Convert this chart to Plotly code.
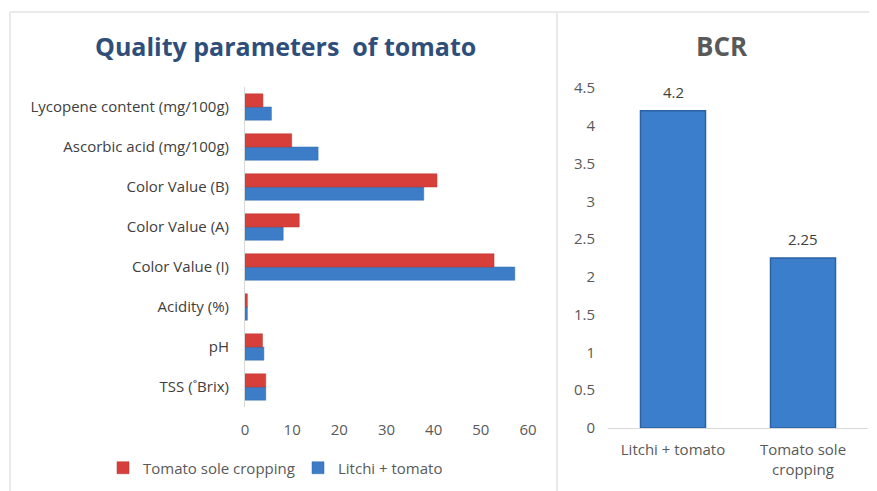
import plotly.graph_objects as go

# page body has an 8px margin, so the figure starts at (8, 8) of the window
OFF = 8
W, H = 877 - OFF, 491 - OFF

# Quality parameters of tomato (horizontal grouped bars)
params = [
    "TSS (˚Brix)",
    "pH",
    "Acidity (%)",
    "Color Value (I)",
    "Color Value (A)",
    "Color Value (B)",
    "Ascorbic acid (mg/100g)",
    "Lycopene content (mg/100g)",
]
sole = [4.4, 3.7, 0.5, 52.8, 11.5, 40.7, 9.9, 3.8]
litchi = [4.4, 4.0, 0.5, 57.2, 8.1, 37.9, 15.5, 5.6]

# BCR
bcr_systems = ["Litchi + tomato", "Tomato sole<br>cropping"]
bcr_values = [4.2, 2.25]
bcr_text = ["4.2", "2.25"]

RED = "#D7403A"
BLUE = "#3D7DC8"
FONT = "'Open Sans', sans-serif"


def px_x(v):
    return (v - OFF) / W


def px_y(v):
    return 1 - (v - OFF) / H


fig = go.Figure()

fig.add_trace(go.Bar(
    y=params, x=litchi, orientation="h", name="Litchi + tomato",
    marker=dict(color=BLUE, line=dict(color="#2F6AAE", width=0.5)),
    xaxis="x", yaxis="y", legendrank=2,
))
fig.add_trace(go.Bar(
    y=params, x=sole, orientation="h", name="Tomato sole cropping",
    marker=dict(color=RED, line=dict(color="#B8332E", width=0.5)),
    xaxis="x", yaxis="y", legendrank=1,
))
fig.add_trace(go.Bar(
    x=bcr_systems, y=bcr_values, width=0.5, showlegend=False,
    marker=dict(color="#3B7FCC", line=dict(color="#2A62A3", width=1.5)),
    xaxis="x2", yaxis="y2",
))

tick_font = dict(family=FONT, size=15, color="#595959")

annotations = [
    dict(text="<b>Quality parameters  of tomato</b>", x=px_x(285), y=px_y(46),
         xref="paper", yref="paper", xanchor="center", yanchor="middle",
         showarrow=False, font=dict(family=FONT, size=25, color="#2F4F7A")),
    dict(text="<b>BCR</b>", x=px_x(722), y=px_y(46),
         xref="paper", yref="paper", xanchor="center", yanchor="middle",
         showarrow=False, font=dict(family=FONT, size=26, color="#595959")),
]
for cat, val, txt in zip(bcr_systems, bcr_values, bcr_text):
    annotations.append(dict(
        text=txt, x=cat, y=val, xref="x2", yref="y2", showarrow=False,
        yanchor="middle", yshift=19,
        font=dict(family=FONT, size=15, color="#404040"),
    ))

fig.update_layout(
    width=W, height=H,
    margin=dict(l=0, r=0, t=0, b=0, autoexpand=False),
    paper_bgcolor="white", plot_bgcolor="white",
    font=dict(family=FONT, color="#404040"),
    barmode="group", bargap=0.34, bargroupgap=0,
    xaxis=dict(
        domain=[px_x(245), px_x(528)], anchor="y", automargin=False,
        range=[0, 60], dtick=10, showgrid=False, zeroline=False,
        showline=False, tickfont=tick_font, ticklabelstandoff=12,
    ),
    yaxis=dict(
        domain=[px_y(407), px_y(87)], anchor="x", automargin=False,
        showgrid=False, zeroline=False, showline=True, linecolor="#D9D9D9",
        ticks="", tickfont=dict(family=FONT, size=15, color="#404040"),
        ticklabelstandoff=12,
    ),
    xaxis2=dict(
        domain=[px_x(608), px_x(868)], anchor="y2", automargin=False,
        showgrid=False, zeroline=False, showline=True, linecolor="#D9D9D9",
        ticks="", tickfont=tick_font, ticklabelstandoff=8,
    ),
    yaxis2=dict(
        domain=[px_y(428), px_y(88)], anchor="x2", automargin=False,
        range=[0, 4.5], dtick=0.5, showgrid=False, zeroline=False,
        showline=False, tickfont=tick_font, ticklabelstandoff=12,
    ),
    legend=dict(
        orientation="h", x=px_x(103), y=px_y(468), yanchor="middle",
        xanchor="left", font=dict(family=FONT, size=15, color="#595959"),
        entrywidth=150, entrywidthmode="pixels", bgcolor="rgba(0,0,0,0)",
    ),
    annotations=annotations,
    shapes=[
        dict(type="line", xref="paper", yref="paper", x0=px_x(10), x1=1,
             y0=px_y(12), y1=px_y(12), line=dict(color="#E3E3E3", width=1.5)),
        dict(type="line", xref="paper", yref="paper", x0=px_x(10), x1=px_x(10),
             y0=px_y(12), y1=0, line=dict(color="#E3E3E3", width=1.5)),
        dict(type="line", xref="paper", yref="paper", x0=px_x(557), x1=px_x(557),
             y0=px_y(12), y1=0, line=dict(color="#E3E3E3", width=1.5)),
    ],
)

fig.write_html("out.html")
